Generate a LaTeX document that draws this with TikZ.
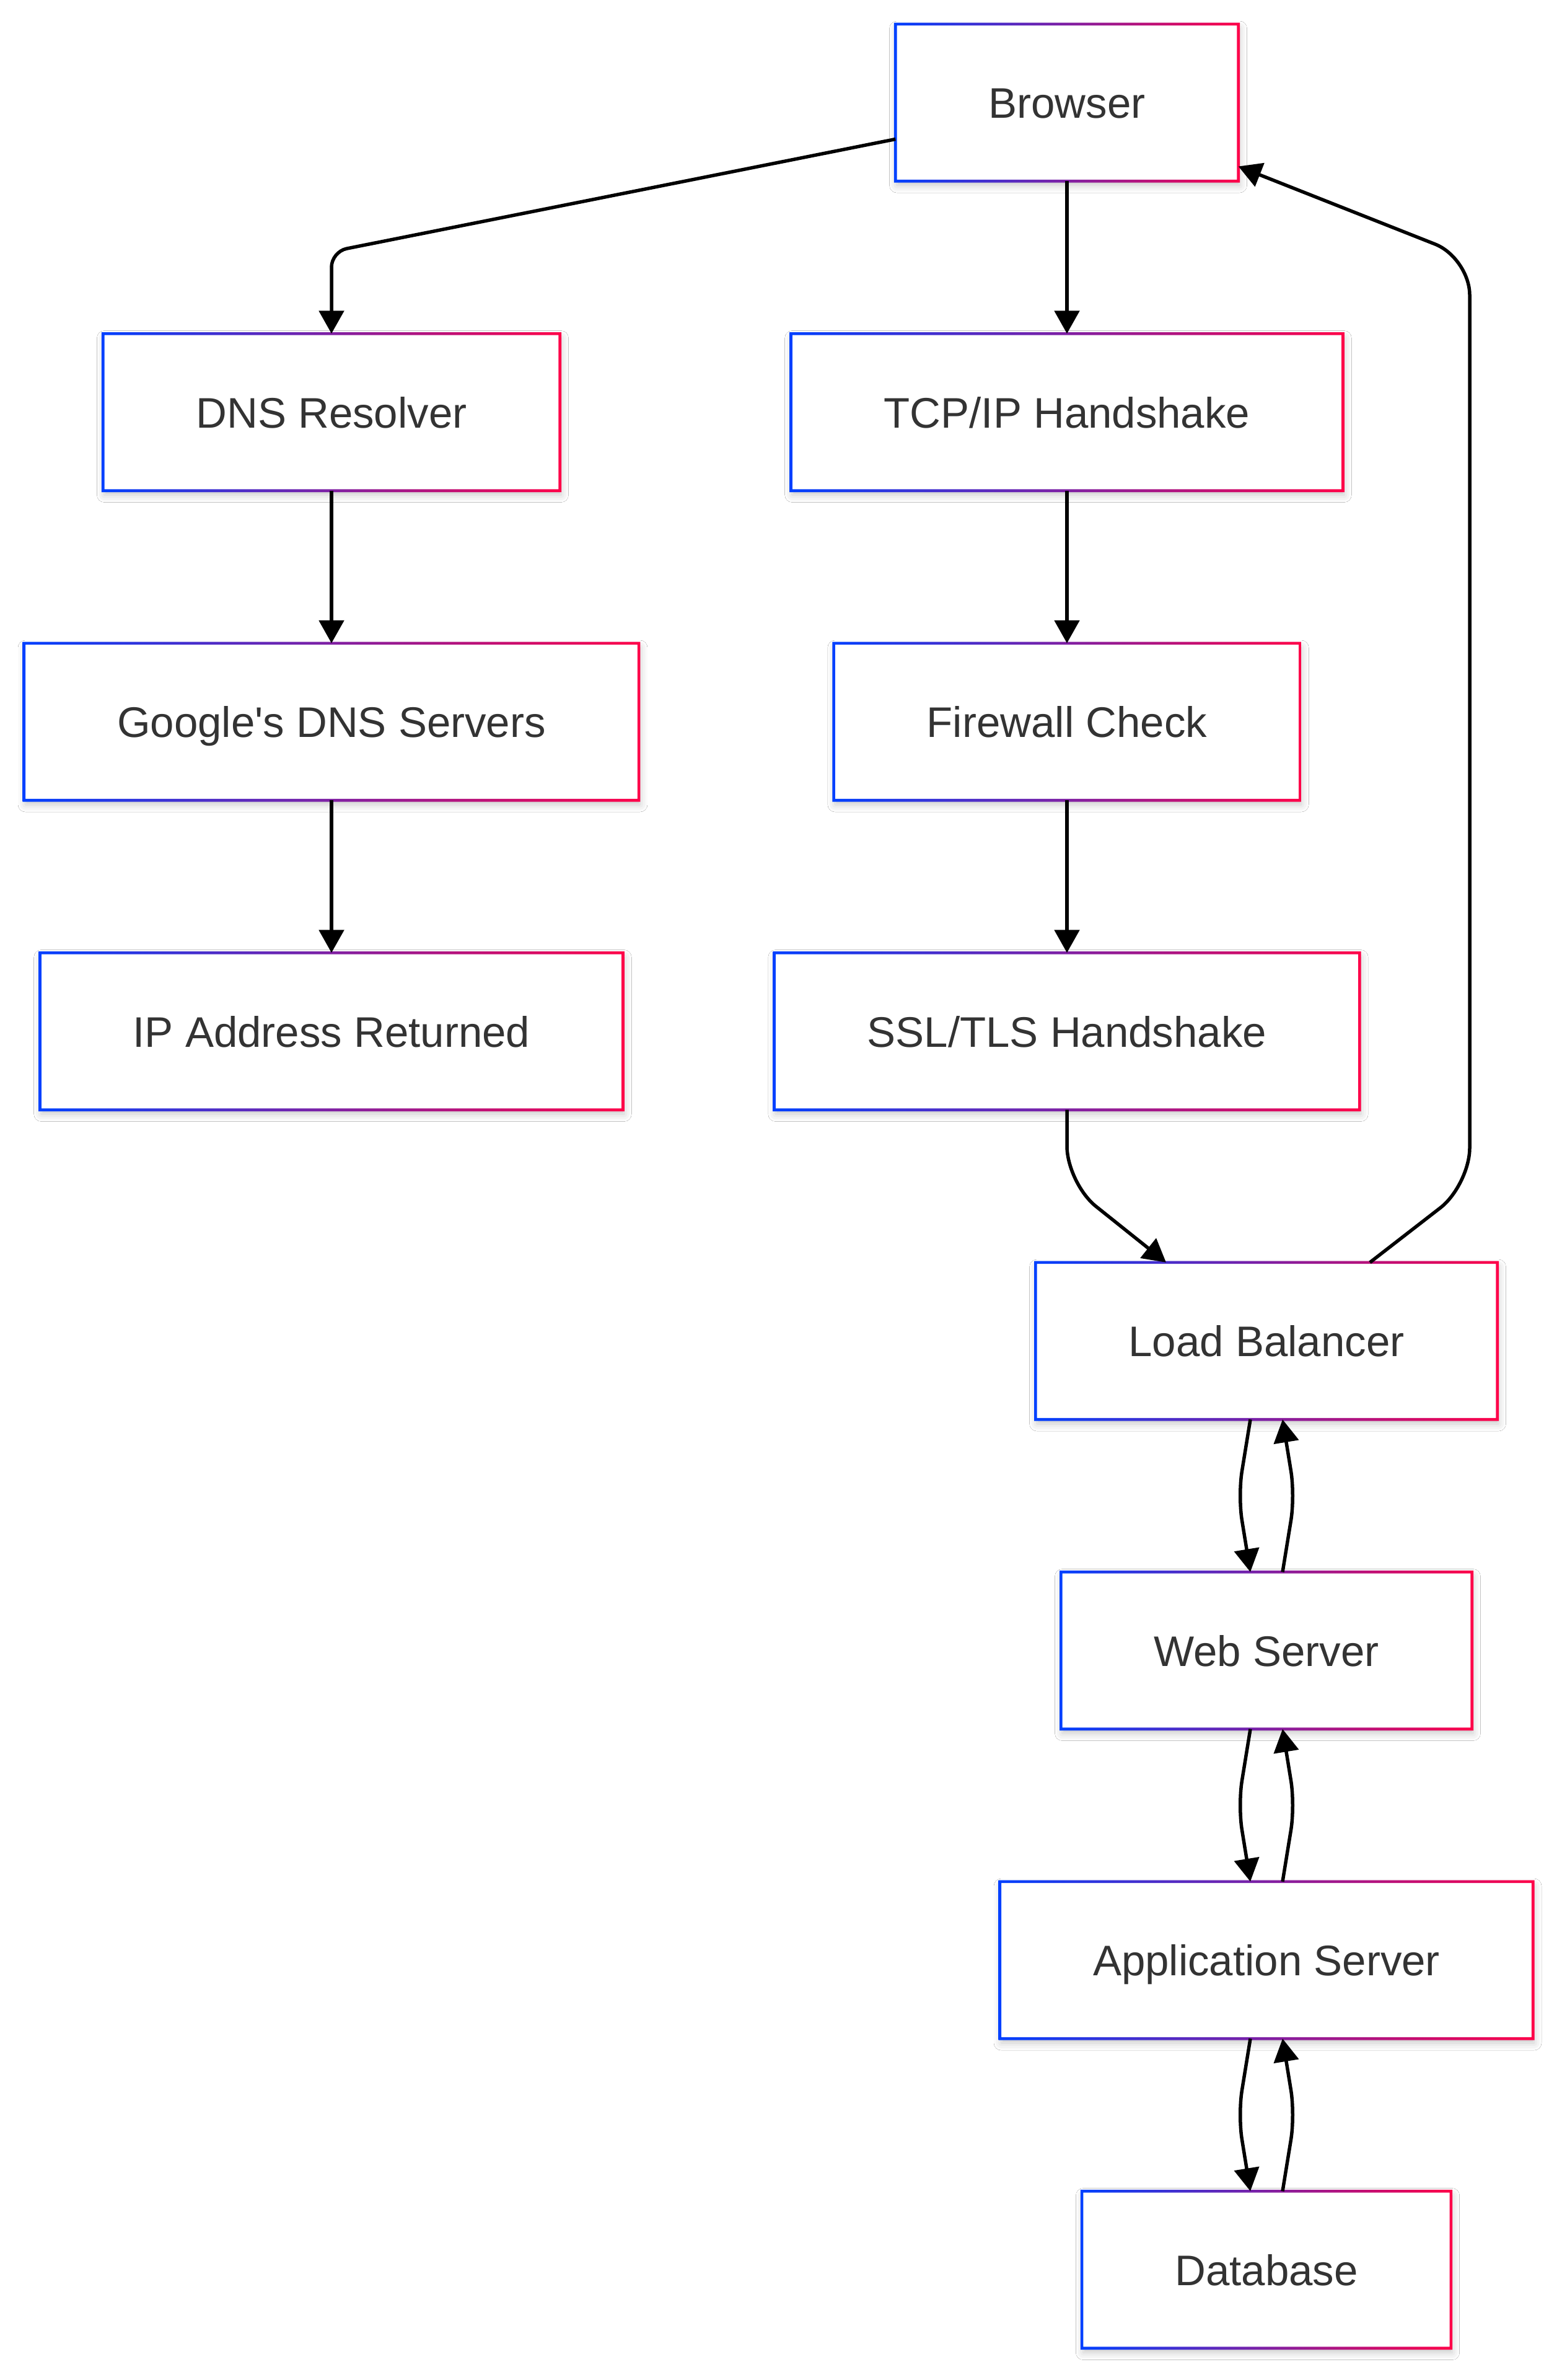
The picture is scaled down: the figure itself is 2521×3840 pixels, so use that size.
\documentclass[tikz,border=0pt]{standalone}
\usepackage{fontspec}
\newfontfamily\stagefont{Liberation Sans}
\usetikzlibrary{calc,arrows.meta,shadows.blur}
\definecolor{edgeblue}{RGB}{0,64,255}
\definecolor{edgered}{RGB}{255,0,72}
\definecolor{labelgray}{RGB}{51,51,51}
\def\gradborder(#1){\shade[left color=edgeblue, right color=edgered, even odd rule] ([shift={(-2.3bp,-2.3bp)}]#1.south west) rectangle ([shift={(2.3bp,2.3bp)}]#1.north east) ([shift={(2.3bp,2.3bp)}]#1.south west) rectangle ([shift={(-2.3bp,-2.3bp)}]#1.north east);}
\tikzset{
	stage/.style={rectangle, fill=white, text=labelgray, font=\stagefont\fontsize{69bp}{83bp}\selectfont, minimum height=253bp, inner xsep=150bp, inner ysep=0bp, text height=50bp, text depth=0bp, blur shadow={shadow xshift=2bp, shadow yshift=-7bp, shadow blur radius=12bp, shadow opacity=22}},
	flow/.style={line width=5.5bp, -{Triangle[length=37bp, width=40bp]}}
}

\begin{document}
\begin{tikzpicture}[x=1bp, y=-1bp]
			%%%%% PAGE %%%%%
			\fill[white] (0,0) rectangle (2521,3840);
			\useasboundingbox (0,0) rectangle (2521,3840);
			
			%%%%% NODES %%%%%
			\node[stage] (browser) at (1722,165.5) {Browser};
			
			\node[stage] (dns) at (535,665) {DNS Resolver};
			\node[stage] (google) at (535,1164.5) {Google's DNS Servers};
			\node[stage] (ipaddr) at (535,1664) {IP Address Returned};
			
			\node[stage] (tcp) at (1722,665) {TCP/IP Handshake};
			\node[stage] (firewall) at (1722,1164.5) {Firewall Check};
			\node[stage] (ssl) at (1722,1664) {SSL/TLS Handshake};
			
			\node[stage] (lb) at (2044,2163.5) {Load Balancer};
			\node[stage] (web) at (2044,2663) {Web Server};
			\node[stage] (app) at (2044,3162.5) {Application Server};
			\node[stage] (db) at (2044,3662) {Database};
			
			\foreach \n in {browser,dns,google,ipaddr,tcp,firewall,ssl,lb,web,app,db}
				\gradborder(\n);
			
			%%%%% EDGES %%%%%
			\coordinate (dnsbend) at (535,406);
			\draw[flow, rounded corners=25bp] ([yshift=-59bp]browser.west) -- (dnsbend) -- (dns.north);
			\draw[flow] (dns.south) -- (google.north);
			\draw[flow] (google.south) -- (ipaddr.north);
			
			\draw[flow] (browser.south) -- (tcp.north);
			\draw[flow] (tcp.south) -- (firewall.north);
			\draw[flow] (firewall.south) -- (ssl.north);
			
			\coordinate (sslbend) at (1722,1909);
			\draw[flow, rounded corners=60bp] (ssl.south) -- (sslbend) -- ([xshift=-162bp]lb.north);
			
			\coordinate (lbbend) at (2372,1912);
			\coordinate (browserbend) at (2372,416);
			\draw[flow, rounded corners=60bp] ([xshift=167bp]lb.north) -- (lbbend) -- (browserbend) -- ([yshift=-103bp]browser.east);
			
			\foreach \u/\l in {lb/web, web/app, app/db} {
				\draw[flow, rounded corners=40bp] ([xshift=-26bp]\u.south) -- ($(\u.south)!0.5!(\l.north)+(-46bp,0bp)$) -- ([xshift=-26bp]\l.north);
				\draw[flow, rounded corners=40bp] ([xshift=26bp]\l.north) -- ($(\u.south)!0.5!(\l.north)+(46bp,0bp)$) -- ([xshift=26bp]\u.south);
			}
			
			%%%%% END %%%%%
\end{tikzpicture}
\end{document}
